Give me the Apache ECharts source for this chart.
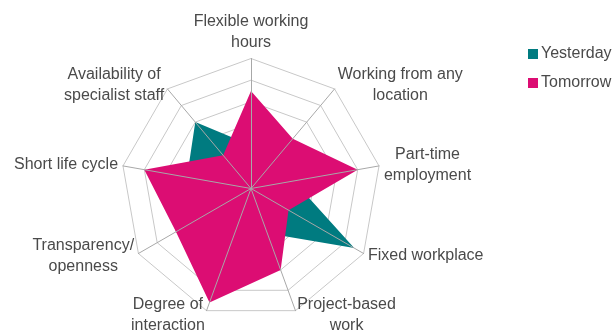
<!DOCTYPE html>
<html>
<head>
<meta charset="utf-8">
<script src="https://cdn.jsdelivr.net/npm/echarts@6/dist/echarts.min.js"></script>
<style>html,body{margin:0;padding:0;background:#fff}#c{width:616px;height:335px}</style>
</head>
<body>
<div id="c"></div>
<script>
// Categories, clockwise from the top
const categories = ['Flexible working\nhours', 'Working from any\nlocation', 'Part-time\nemployment', 'Fixed workplace', 'Project-based\nwork', 'Degree of\ninteraction', 'Transparency/\nopenness', 'Short life cycle', 'Availability of\nspecialist staff'];
const yesterday = [2, 2, 2, 5.5, 2.2, 3, 3, 3, 4];
const tomorrow  = [4.5, 3, 5, 2, 4, 5.6, 4, 5, 2];
const seriesNames = ['Yesterday', 'Tomorrow'];
const scaleMax = 6;

const chart = echarts.init(document.getElementById('c'), null, {renderer: 'canvas'});
// ECharts places indicators counter-clockwise; reorder so they read clockwise
function ccw(arr) { return [arr[0]].concat(arr.slice(1).reverse()); }
const indicators = ccw(categories).map(n => ({name: n, max: scaleMax, min: 0}));
const font = 'Liberation Sans, Arial, sans-serif';
const textColor = '#4a4a4a';
const radarBase = {
  center: [251, 188.5],
  radius: 130,
  startAngle: 90,
  shape: 'polygon',
  splitNumber: 6,
  indicator: indicators
};
chart.setOption({
  animation: false,
  legend: {
    orient: 'vertical',
    left: 523, top: 41,
    icon: 'rect',
    itemWidth: 10, itemHeight: 10,
    itemGap: 13,
    data: seriesNames,
    textStyle: {fontFamily: font, fontSize: 16, color: textColor, padding: [0,0,0,-2]}
  },
  radar: [
    Object.assign({}, radarBase, {
      axisName: {
        formatter: function (v) { return v.split('\n').map(l => '{c|' + l + '}').join('\n'); },
        rich: {c: {align: 'center', fontFamily: font, fontSize: 16, color: textColor, lineHeight: 21}}
      },
      nameGap: 5,
      splitArea: {show: false},
      splitLine: {lineStyle: {color: '#c8c8c8', width: 1}},
      axisLine: {show: false}
    }),
    Object.assign({}, radarBase, {
      z: 10,
      axisName: {show: false},
      splitArea: {show: false},
      splitLine: {show: false},
      axisLine: {lineStyle: {color: '#a8a8a8', width: 1}}
    })
  ],
  series: [{
    type: 'radar',
    radarIndex: 0,
    symbol: 'none',
    data: [
      {name: seriesNames[0], value: ccw(yesterday), itemStyle: {color: '#007b80'}, lineStyle: {width: 0}, areaStyle: {color: '#007b80', opacity: 1}},
      {name: seriesNames[1], value: ccw(tomorrow), itemStyle: {color: '#dc0d73'}, lineStyle: {width: 0}, areaStyle: {color: '#dc0d73', opacity: 1}}
    ]
  }]
});
</script>
</body>
</html>
